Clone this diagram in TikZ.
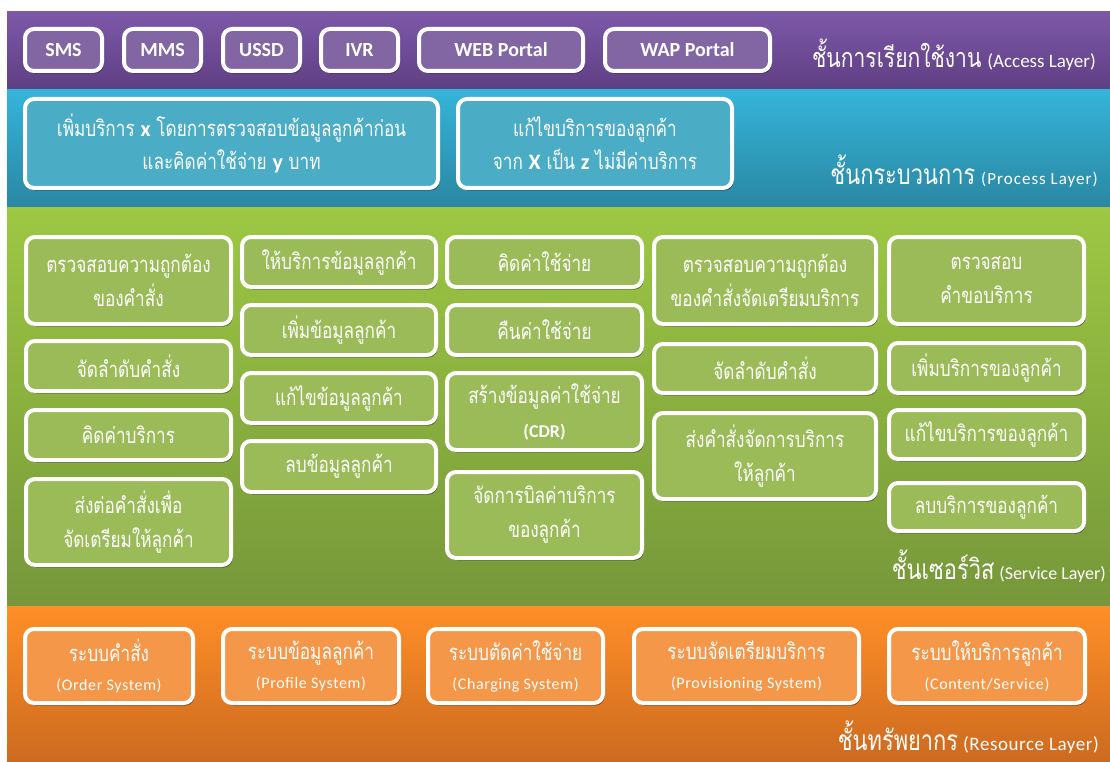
\documentclass[tikz,border=0pt]{standalone}
\usepackage{fontspec}
\setmainfont{Carlito}
\newfontfamily\thai[Script=Thai,FakeStretch=0.78]{Loma}
\newcommand\en{\rmfamily}
\usetikzlibrary{shadows}
\definecolor{accTop}{HTML}{7D58A8}
\definecolor{accBot}{HTML}{5F3F83}
\definecolor{accBox}{HTML}{8266A3}
\definecolor{proTop}{HTML}{35B4D9}
\definecolor{proBot}{HTML}{2A87A2}
\definecolor{proBox}{HTML}{4BACC6}
\definecolor{svcTop}{HTML}{9DC843}
\definecolor{svcBot}{HTML}{76973A}
\definecolor{svcBox}{HTML}{9BBB59}
\definecolor{resTop}{HTML}{FF8F27}
\definecolor{resBot}{HTML}{CC6A1F}
\definecolor{resBox}{HTML}{F59749}
\tikzset{
  box/.style={draw=white, line width=4pt, rounded corners=9pt, text=white,
    align=center, inner sep=0pt,
    drop shadow={shadow xshift=1.5pt, shadow yshift=-2.5pt, opacity=0.45, fill=black}},
  accbox/.style={box, fill=accBox, font=\en\bfseries\fontsize{20}{24}\selectfont},
  probox/.style={box, fill=proBox, font=\thai\fontsize{22}{33}\selectfont},
  svcbox/.style={box, fill=svcBox, font=\thai\fontsize{22}{34}\selectfont},
  resbox/.style={box, fill=resBox, font=\thai\fontsize{22}{29}\selectfont},
  layerlbl/.style={anchor=base east, text=white, inner sep=0pt},
}
% #1 style, #2 name, #3 x1, #4 y1, #5 x2, #6 y2, #7 text
\newcommand\bx[7]{%
  \node[#1, minimum width={#5pt-#3pt-4pt}, minimum height={#6pt-#4pt-4pt}]
    (#2) at ({(#3+#5)/2},{(#4+#6)/2}) {#7};}
\newcommand\eng[1]{{\en\fontsize{16}{18}\selectfont\addfontfeature{LetterSpace=4}#1}}
\begin{document}
\begin{tikzpicture}[x=1pt,y=-1pt]
\useasboundingbox (0,0) rectangle (1110,762);
\fill[white] (0,0) rectangle (1110,762);
% layer bands
\shade[top color=accTop, bottom color=accBot] (7,12) rectangle (1110,90);
\shade[top color=proTop, bottom color=proBot] (7,90) rectangle (1110,207);
\shade[top color=svcTop, bottom color=svcBot] (7,207) rectangle (1110,606);
\shade[top color=resTop, bottom color=resBot] (7,606) rectangle (1110,762);
% access layer
\bx{accbox}{sms}{23}{27}{104}{73}{SMS}
\bx{accbox}{mms}{122}{27}{203}{73}{MMS}
\bx{accbox}{ussd}{221}{27}{302}{73}{USSD}
\bx{accbox}{ivr}{319}{27}{400}{73}{IVR}
\bx{accbox}{web}{417}{27}{585}{73}{WEB Portal}
\bx{accbox}{wap}{603}{27}{772}{73}{WAP Portal}
\node[layerlbl] (acclbl) at (1096,68) {{\thai\fontsize{27}{30}\selectfont ชั้นการเรียกใช้งาน}\hspace{6pt}{\en\fontsize{19}{20}\selectfont (Access Layer)}};
% process layer
\bx{probox}{pro1}{23}{97}{440}{190}{เพิ่มบริการ {\en\bfseries x} โดยการตรวจสอบข้อมูลลูกค้าก่อน\\และคิดค่าใช้จ่าย {\en\bfseries y} บาท}
\bx{probox}{pro2}{456}{97}{734}{190}{แก้ไขบริการของลูกค้า\\จาก {\en\bfseries X} เป็น {\en\bfseries z} ไม่มีค่าบริการ}
\node[layerlbl] (prolbl) at (1098,185) {{\thai\fontsize{28}{30}\selectfont ชั้นกระบวนการ}\hspace{6pt}{\en\fontsize{17}{18}\selectfont\addfontfeature{LetterSpace=6}(Process Layer)}};
% service layer: column 1
\bx{svcbox}{s11}{24}{235}{233}{326}{ตรวจสอบความถูกต้อง\\ของคำสั่ง}
\bx{svcbox}{s12}{24}{339}{233}{393}{จัดลำดับคำสั่ง}
\bx{svcbox}{s13}{24}{408}{233}{462}{คิดค่าบริการ}
\bx{svcbox}{s14}{24}{477}{233}{567}{ส่งต่อคำสั่งเพื่อ\\จัดเตรียมให้ลูกค้า}
% column 2
\bx{svcbox}{s21}{240}{235}{438}{289}{ให้บริการข้อมูลลูกค้า}
\bx{svcbox}{s22}{240}{303}{438}{357}{เพิ่มข้อมูลลูกค้า}
\bx{svcbox}{s23}{240}{371}{438}{425}{แก้ไขข้อมูลลูกค้า}
\bx{svcbox}{s24}{240}{439}{438}{494}{ลบข้อมูลลูกค้า}
% column 3
\bx{svcbox}{s31}{445}{235}{644}{289}{คิดค่าใช้จ่าย}
\bx{svcbox}{s32}{445}{303}{644}{357}{คืนค่าใช้จ่าย}
\bx{svcbox}{s33}{445}{371}{644}{452}{สร้างข้อมูลค่าใช้จ่าย\\{\en\bfseries\fontsize{18}{20}\selectfont (CDR)}}
\bx{svcbox}{s34}{445}{470}{644}{560}{จัดการบิลค่าบริการ\\ของลูกค้า}
% column 4
\bx{svcbox}{s41}{652}{235}{878}{326}{ตรวจสอบความถูกต้อง\\ของคำสั่งจัดเตรียมบริการ}
\bx{svcbox}{s42}{652}{342}{878}{395}{จัดลำดับคำสั่ง}
\bx{svcbox}{s43}{652}{411}{878}{501}{ส่งคำสั่งจัดการบริการ\\ให้ลูกค้า}
% column 5
\bx{svcbox}{s51}{887}{235}{1086}{326}{ตรวจสอบ\\คำขอบริการ}
\bx{svcbox}{s52}{887}{341}{1086}{395}{เพิ่มบริการของลูกค้า}
\bx{svcbox}{s53}{887}{408}{1086}{461}{แก้ไขบริการของลูกค้า}
\bx{svcbox}{s54}{887}{481}{1086}{533}{ลบบริการของลูกค้า}
\node[layerlbl] (svclbl) at (1106,579) {{\thai\fontsize{28}{30}\selectfont ชั้นเซอร์วิส}\hspace{5pt}{\en\fontsize{18}{18}\selectfont (Service Layer)}};
% resource layer
\bx{resbox}{r1}{23}{627}{195}{705}{ระบบคำสั่ง\\\eng{(Order System)}}
\bx{resbox}{r2}{221}{627}{401}{705}{ระบบข้อมูลลูกค้า\\\eng{(Profile System)}}
\bx{resbox}{r3}{426}{627}{605}{705}{ระบบตัดค่าใช้จ่าย\\\eng{(Charging System)}}
\bx{resbox}{r4}{632}{627}{861}{705}{ระบบจัดเตรียมบริการ\\\eng{(Provisioning System)}}
\bx{resbox}{r5}{887}{627}{1087}{705}{ระบบให้บริการลูกค้า\\\eng{(Content/Service)}}
\node[layerlbl] (reslbl) at (1099,750) {{\thai\fontsize{28}{30}\selectfont ชั้นทรัพยากร}\hspace{5pt}{\en\fontsize{19}{20}\selectfont\addfontfeature{LetterSpace=3}(Resource Layer)}};
\end{tikzpicture}
\end{document}
